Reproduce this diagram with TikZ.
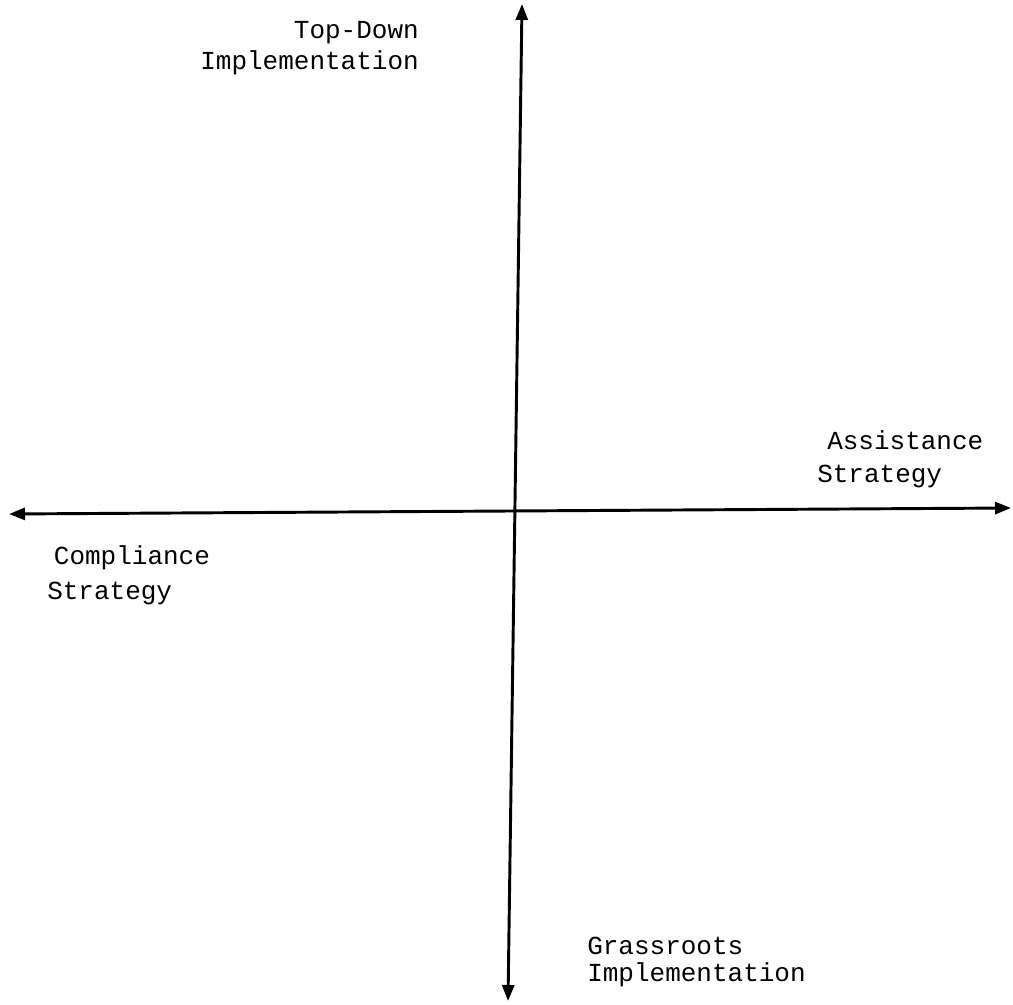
\documentclass[tikz,border=0pt]{standalone}
\usepackage{fontspec}
\setmonofont{Liberation Mono}
\usetikzlibrary{arrows.meta}
\begin{document}
\begin{tikzpicture}[x=0.75pt,y=-0.75pt,
  axis/.style={line width=2.2pt,{Triangle[length=12pt,width=9pt]}-{Triangle[length=12pt,width=9pt]}},
  lbl/.style={font=\ttfamily\fontsize{19.5}{24}\selectfont,inner sep=0pt}]
\useasboundingbox (0,0) rectangle (1013,1005);
\fill[white] (0,0) rectangle (1013,1005);
\coordinate (top) at (522,4);
\coordinate (bottom) at (508,1001);
\coordinate (left) at (9,514);
\coordinate (right) at (1011,508);
\draw[axis] (bottom) -- (top);
\draw[axis] (left) -- (right);
\node[lbl,align=right,anchor=east,font=\ttfamily\fontsize{19.5}{23.25}\selectfont] (td) at (419,48) {Top-Down\\Implementation};
\node[lbl,align=left,anchor=west,font=\ttfamily\fontsize{19.5}{24.75}\selectfont] (as) at (817,459) {\hspace*{7.5pt}Assistance\\Strategy};
\node[lbl,align=left,anchor=west,font=\ttfamily\fontsize{19.5}{26.25}\selectfont] (cs) at (47,575) {\hspace*{5pt}Compliance\\Strategy};
\node[lbl,align=left,anchor=west,font=\ttfamily\fontsize{19.5}{20.25}\selectfont] (gi) at (587,962) {Grassroots\\Implementation};
\end{tikzpicture}
\end{document}
